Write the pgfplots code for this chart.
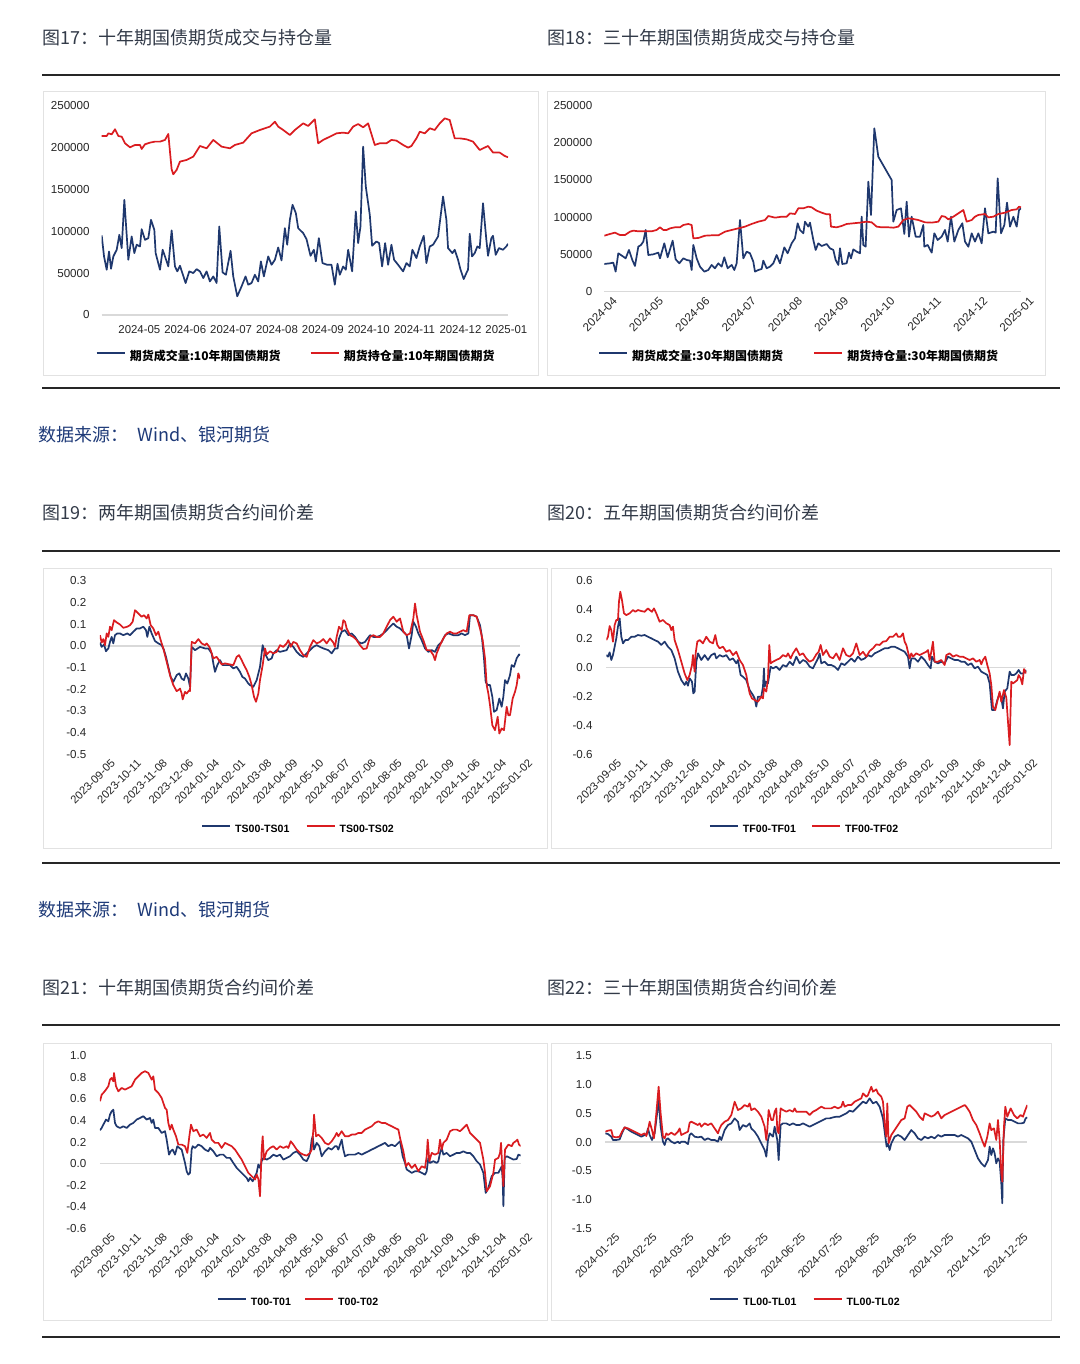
\documentclass[border=0pt]{standalone}
\usepackage{fontspec}
\usepackage{pgfplots}
\pgfplotsset{compat=1.18}
\setmainfont{Liberation Sans}
\newfontfamily\cjk{Noto Sans CJK SC}
\definecolor{navy}{RGB}{31,56,110}
\definecolor{cred}{RGB}{218,28,32}
\definecolor{ttl}{RGB}{50,58,72}
\definecolor{src}{RGB}{30,58,120}
\definecolor{frm}{RGB}{226,226,226}
\definecolor{zero}{RGB}{217,217,217}
\pgfplotsset{
  base/.style={
    scale only axis, anchor=south west,
    axis line style={draw=none}, tick style={draw=none}, major tick length=0pt,
    /pgf/number format/assume math mode=true,
    tick label style={font=\fontsize{5.8}{6.5}\selectfont, text=black!85},
    yticklabel style={anchor=east, inner sep=0pt},
    extra y ticks={0}, extra y tick labels={},
    extra y tick style={grid=major, major grid style={draw=zero, line width=0.75pt}},
    legend style={draw=none, fill=none, legend columns=2, anchor=center, inner sep=0pt,
      nodes={inner sep=0pt}, /tikz/every odd column/.append style={column sep=2pt}},
    legend image code/.code={\draw[#1, line width=1.1pt] (0pt,2pt) -- (14pt,2pt);},
    every axis plot/.append style={line width=0.85pt, line join=round},
  },
  dec/.style={yticklabel style={/pgf/number format/fixed, /pgf/number format/fixed zerofill, /pgf/number format/precision=1}},
  leglat/.style={legend style={font=\bfseries\fontsize{5.3}{6}\selectfont}},
}
\begin{document}
\begin{tikzpicture}
\fill[white] (0pt,0pt) rectangle (540pt,-682pt);
\path[use as bounding box] (0pt,0pt) rectangle (540pt,-682pt);
% titles
\begin{scope}[every node/.style={anchor=west, inner sep=0pt, text=ttl, font=\cjk\fontsize{9}{11}\selectfont}]
\node at (21pt,-19pt) {图17：十年期国债期货成交与持仓量};
\node at (273.5pt,-19pt) {图18：三十年期国债期货成交与持仓量};
\node at (21pt,-256.5pt) {图19：两年期国债期货合约间价差};
\node at (273.5pt,-256.5pt) {图20：五年期国债期货合约间价差};
\node at (21pt,-494pt) {图21：十年期国债期货合约间价差};
\node at (273.5pt,-494pt) {图22：三十年期国债期货合约间价差};
\end{scope}
\begin{scope}[every node/.style={anchor=west, inner sep=0pt, text=src, font=\cjk\fontsize{9}{11}\selectfont}]
\node at (19pt,-217.5pt) {数据来源：};
\node at (68.5pt,-217.5pt) {Wind、银河期货};
\node at (19pt,-455pt) {数据来源：};
\node at (68.5pt,-455pt) {Wind、银河期货};
\end{scope}
% rules
\draw[line width=1pt, black!85] (21pt,-37.5pt) -- (530pt,-37.5pt);
\draw[line width=0.8pt, black!85] (21pt,-194pt) -- (530pt,-194pt);
\draw[line width=1pt, black!85] (21pt,-275.5pt) -- (530pt,-275.5pt);
\draw[line width=0.8pt, black!85] (21pt,-431.5pt) -- (530pt,-431.5pt);
\draw[line width=1pt, black!85] (21pt,-512.5pt) -- (530pt,-512.5pt);
\draw[line width=0.8pt, black!85] (21pt,-668.5pt) -- (530pt,-668.5pt);
% frames
\draw[frm, line width=0.5pt] (21.5pt,-46pt) rectangle (269pt,-187.5pt);
\draw[frm, line width=0.5pt] (273.5pt,-46pt) rectangle (522.5pt,-187.5pt);
\draw[frm, line width=0.5pt] (21.5pt,-284pt) rectangle (273.5pt,-424pt);
\draw[frm, line width=0.5pt] (275.5pt,-284pt) rectangle (525.5pt,-424pt);
\draw[frm, line width=0.5pt] (21.5pt,-521.5pt) rectangle (273.5pt,-660pt);
\draw[frm, line width=0.5pt] (275.5pt,-521.5pt) rectangle (525.5pt,-660pt);

% ---------- Fig 17 ----------
\begin{axis}[base, at={(50.85pt,-157.5pt)}, width=203.15pt, height=104.65pt,
 xmin=185, xmax=1405, ymin=0, ymax=250000,
 xtick={298,435.75,573.5,711.25,849,986.75,1124.5,1262.25,1400},
 xticklabels={2024-05,2024-06,2024-07,2024-08,2024-09,2024-10,2024-11,2024-12,2025-01},
 xticklabel style={anchor=north, inner sep=0pt, yshift=-5pt, font=\fontsize{5.7}{6.5}\selectfont},
 ytick={0,50000,100000,150000,200000,250000}, scaled y ticks=false,
 yticklabel style={/pgf/number format/fixed, /pgf/number format/1000 sep={}, xshift=-5.85pt},
 legend style={at={(axis description cs:0.476,-0.2007)}, font=\cjk\bfseries\fontsize{6}{7}\selectfont},
]
\addplot[navy] coordinates {(185,95000)(192,70000)(200,54100)(207,75900)(213,55200)(220,70000)(230,77900)(238,95800)(245,79900)(253,137500)(265,66000)(275,93800)(283,73900)(290,83900)(300,81900)(305,102500)(315,89800)(325,91800)(333,113700)(343,101700)(347,73900)(360,54100)(368,77900)(375,70000)(385,58000)(395,101000)(405,58000)(412,52100)(420,58800)(437,38200)(448,52100)(460,50100)(470,54800)(480,52100)(490,44100)(500,52100)(510,40100)(520,46100)(530,38200)(538,105700)(548,50900)(558,48100)(572,76700)(580,46100)(592,22300)(605,34200)(617,46100)(625,36200)(635,38200)(645,48100)(655,40100)(663,64000)(672,46100)(685,70000)(695,60000)(705,65900)(715,80700)(725,65200)(735,103700)(742,83900)(750,113700)(758,131600)(768,121600)(775,103700)(790,97800)(800,90600)(812,70700)(822,77900)(828,64000)(837,91800)(848,62000)(862,60000)(875,60000)(885,36200)(893,61200)(900,48100)(910,58000)(918,54100)(925,77900)(937,52100)(948,123600)(955,85900)(962,105700)(970,201100)(978,153400)(990,119600)(997,82700)(1010,87800)(1018,85900)(1027,58000)(1036,85900)(1045,60000)(1055,83900)(1063,65900)(1075,60000)(1090,52100)(1100,62000)(1110,58000)(1118,77900)(1130,68000)(1140,81900)(1152,94600)(1160,62000)(1170,81900)(1180,83900)(1195,93800)(1210,141500)(1220,113700)(1225,79900)(1238,73900)(1245,77900)(1255,66000)(1262,54800)(1272,42900)(1280,50100)(1285,54100)(1290,97000)(1297,70000)(1305,73900)(1313,81900)(1320,79900)(1330,133500)(1340,89800)(1345,70700)(1355,91800)(1360,94600)(1368,71900)(1378,79900)(1390,77900)(1400,81900)(1405,85100)};
\addlegendentry{期货成交量:10年期国债期货\kern14.5pt}
\addplot[cred] coordinates {(185,213800)(200,213800)(205,217000)(215,215800)(225,221800)(235,213800)(245,213000)(255,205100)(270,200300)(285,203100)(300,203100)(305,198300)(315,203900)(330,205900)(345,207100)(360,207100)(375,209100)(385,216200)(395,174000)(400,168100)(410,173300)(420,183200)(440,185200)(460,189200)(480,201900)(500,199100)(520,209100)(545,201100)(570,199100)(585,203100)(610,205900)(635,217000)(660,221000)(690,225000)(705,230900)(715,225000)(730,221000)(750,215000)(765,221000)(790,228900)(805,225800)(825,233700)(835,205100)(850,209100)(870,213000)(890,217000)(910,217800)(925,217000)(940,225000)(955,228100)(970,224200)(985,228900)(1005,203100)(1020,205100)(1040,205100)(1055,209100)(1070,208300)(1090,203100)(1105,199900)(1115,201900)(1130,211000)(1140,219000)(1155,217000)(1170,223000)(1185,221000)(1200,228900)(1215,234900)(1230,232900)(1245,211000)(1260,211000)(1280,209900)(1300,207100)(1320,197100)(1345,201900)(1360,194000)(1380,194000)(1395,190000)(1405,188400)};
\addlegendentry{期货持仓量:10年期国债期货}
\end{axis}

% ---------- Fig 18 ----------
\begin{axis}[base, at={(302.15pt,-145.65pt)}, width=208.35pt, height=92.8pt,
 xmin=178, xmax=1428, ymin=0, ymax=250000,
 xtick={178,316.89,455.78,594.67,733.56,872.44,1011.33,1150.22,1289.11,1428},
 xticklabels={2024-04,2024-05,2024-06,2024-07,2024-08,2024-09,2024-10,2024-11,2024-12,2025-01},
 xticklabel style={rotate=45, anchor=east, inner sep=0pt, xshift=1.2pt, yshift=-6.5pt, font=\fontsize{5.8}{6.5}\selectfont},
 ytick={0,50000,100000,150000,200000,250000}, scaled y ticks=false,
 yticklabel style={/pgf/number format/fixed, /pgf/number format/1000 sep={}, xshift=-5.8pt},
 legend style={at={(axis description cs:0.465,-0.354)}, font=\cjk\bfseries\fontsize{6}{7}\selectfont},
]
\addplot[navy] coordinates {(178,36800)(195,37700)(205,38600)(212,26500)(220,51200)(232,47600)(242,44400)(252,55700)(262,42200)(270,34100)(280,60100)(288,62400)(295,66900)(302,82600)(310,48900)(325,49800)(340,52100)(345,44400)(358,64600)(368,45800)(383,68200)(392,43100)(403,37700)(415,44400)(425,42200)(435,41300)(440,28700)(445,62400)(455,44400)(465,33200)(478,26500)(490,28700)(500,35500)(510,31000)(520,37700)(530,33200)(538,45800)(548,31000)(560,35500)(568,28700)(575,37700)(585,96000)(595,44400)(605,53400)(615,51200)(625,39900)(630,26500)(640,28700)(650,30100)(655,41300)(665,31000)(675,33200)(685,37700)(695,48900)(705,37700)(718,59200)(728,51200)(740,64600)(750,71400)(758,91600)(765,82600)(775,78100)(780,93800)(790,87100)(795,92500)(805,69100)(812,55700)(820,64600)(830,61000)(845,63700)(855,57900)(865,55700)(872,42200)(880,35500)(885,57900)(892,36800)(905,37700)(912,52100)(918,44400)(925,56500)(935,53400)(945,51200)(950,100500)(955,62400)(962,60100)(970,147700)(978,102800)(988,219500)(1000,181300)(1040,149900)(1045,93800)(1055,109500)(1068,111800)(1078,77200)(1085,120700)(1092,73600)(1100,100500)(1112,73600)(1125,73600)(1135,89300)(1138,60100)(1148,62400)(1160,52100)(1168,78100)(1178,69100)(1190,73600)(1200,82600)(1208,66900)(1218,100500)(1228,66900)(1240,82600)(1252,91600)(1260,66900)(1270,60100)(1280,78100)(1290,66900)(1300,78100)(1310,64600)(1320,111800)(1330,78100)(1345,80300)(1352,79000)(1358,152100)(1368,78100)(1378,89300)(1386,119400)(1395,87100)(1405,100500)(1415,87100)(1422,109500)(1428,111800)};
\addlegendentry{期货成交量:30年期国债期货\kern15pt}
\addplot[cred] coordinates {(178,74900)(195,77200)(210,79000)(225,75800)(240,75800)(255,80300)(265,81700)(280,80800)(300,80800)(320,80800)(335,82600)(345,86200)(355,82600)(365,82600)(375,84800)(390,86200)(405,86200)(415,89300)(430,90700)(440,89300)(445,71400)(460,71800)(480,74900)(500,75400)(520,75400)(540,80300)(560,82600)(580,84800)(600,87100)(620,90700)(640,93800)(660,96000)(670,101400)(690,99200)(710,100500)(725,100500)(735,105000)(750,104100)(760,111800)(775,111800)(790,114000)(800,113100)(815,108600)(830,105900)(845,103700)(855,103700)(858,87100)(875,86200)(890,88000)(905,90700)(925,91600)(945,92500)(965,93800)(980,92900)(995,87100)(1010,86200)(1030,86200)(1045,85700)(1060,87100)(1075,96000)(1090,98300)(1105,97400)(1120,96000)(1140,92900)(1160,92500)(1180,93800)(1190,101400)(1200,100500)(1210,96900)(1225,100500)(1240,105000)(1255,109500)(1265,93800)(1280,96000)(1290,100500)(1300,102800)(1320,104100)(1330,99600)(1345,100500)(1360,104100)(1380,105900)(1400,109500)(1415,110400)(1422,114000)(1428,113100)};
\addlegendentry{期货持仓量:30年期国债期货}
\end{axis}

% ---------- Fig 19 ----------
\begin{axis}[base, dec, leglat, at={(50pt,-377.15pt)}, width=210pt, height=86.8pt,
 xmin=180, xmax=1440, ymin=-0.5, ymax=0.3,
 xtick={185,263.25,341.5,419.75,498,576.25,654.5,732.75,811,889.25,967.5,1045.75,1124,1202.25,1280.5,1358.75,1437},
 xticklabels={2023-09-05,2023-10-11,2023-11-08,2023-12-06,2024-01-04,2024-02-01,2024-03-08,2024-04-09,2024-05-10,2024-06-07,2024-07-08,2024-08-05,2024-09-02,2024-10-09,2024-11-06,2024-12-04,2025-01-02},
 xticklabel style={rotate=45, anchor=east, inner sep=0pt, xshift=1.67pt, yshift=-6.5pt, font=\fontsize{5.6}{6.5}\selectfont},
 ytick={-0.5,-0.4,-0.3,-0.2,-0.1,0,0.1,0.2,0.3},
 yticklabel style={xshift=-6.65pt},
 legend style={at={(axis description cs:0.470,-0.436)}},
]
\addplot[navy] coordinates {(180,0.015)(185,-0.005)(192,0.006)(198,-0.025)(205,-0.012)(210,0.018)(215,0.041)(220,0.011)(225,0.049)(232,0.057)(240,0.057)(250,0.049)(262,0.057)(270,0.049)(280,0.065)(290,0.080)(300,0.080)(310,0.088)(318,0.072)(322,0.041)(328,0.088)(335,0.057)(345,0.022)(355,0.011)(365,0.003)(372,-0.020)(378,-0.051)(385,-0.097)(392,-0.143)(400,-0.166)(405,-0.151)(410,-0.135)(418,-0.127)(425,-0.151)(432,-0.158)(438,-0.127)(445,-0.151)(450,-0.189)(455,-0.005)(465,-0.020)(480,-0.005)(495,-0.012)(505,-0.012)(515,-0.035)(520,-0.081)(525,-0.120)(532,-0.089)(540,-0.066)(548,-0.089)(560,-0.089)(570,-0.089)(580,-0.104)(590,-0.097)(600,-0.120)(607,-0.143)(615,-0.151)(625,-0.174)(630,-0.181)(640,-0.189)(650,-0.158)(660,-0.097)(668,0.003)(675,-0.035)(685,-0.066)(695,-0.058)(700,-0.035)(710,-0.020)(720,-0.028)(740,-0.020)(750,0.011)(760,-0.005)(770,-0.028)(780,-0.043)(790,-0.051)(800,-0.035)(810,-0.020)(820,-0.005)(830,0.003)(840,-0.005)(850,-0.012)(865,-0.020)(875,-0.035)(885,-0.012)(893,-0.012)(897,0.034)(905,0.065)(915,0.072)(925,0.049)(935,0.057)(945,0.041)(955,0.018)(965,0.011)(975,0.018)(990,0.049)(1000,0.041)(1010,0.041)(1020,0.046)(1030,0.057)(1040,0.072)(1050,0.088)(1060,0.103)(1070,0.088)(1080,0.080)(1090,0.065)(1100,0.049)(1107,-0.012)(1115,0.049)(1120,0.111)(1128,0.088)(1135,0.057)(1145,0.026)(1155,-0.012)(1165,-0.028)(1175,-0.020)(1185,-0.028)(1195,0.003)(1205,0.018)(1215,0.049)(1225,0.057)(1240,0.049)(1255,0.049)(1265,0.057)(1275,0.049)(1285,0.057)(1290,0.141)(1300,0.141)(1310,0.134)(1320,0.095)(1325,0.049)(1332,-0.058)(1337,-0.166)(1343,-0.181)(1350,-0.181)(1357,-0.235)(1362,-0.304)(1370,-0.296)(1378,-0.243)(1385,-0.281)(1390,-0.235)(1395,-0.158)(1402,-0.174)(1410,-0.135)(1415,-0.089)(1422,-0.097)(1430,-0.058)(1437,-0.040)(1440,-0.043)};
\addlegendentry{TS00-TS01\kern8pt}
\addplot[cred] coordinates {(180,0.049)(185,0.015)(190,0.031)(195,0.003)(200,0.057)(205,0.041)(210,0.088)(215,0.072)(222,0.118)(230,0.108)(240,0.098)(250,0.083)(262,0.088)(270,0.095)(278,0.111)(285,0.164)(295,0.149)(305,0.134)(312,0.141)(320,0.126)(325,0.144)(332,0.095)(340,0.080)(348,0.049)(355,0.065)(362,0.026)(370,-0.012)(380,-0.074)(390,-0.135)(400,-0.181)(410,-0.209)(415,-0.204)(420,-0.197)(425,-0.220)(428,-0.247)(435,-0.212)(440,-0.220)(448,-0.204)(450,-0.209)(455,0.018)(465,0.011)(475,0.031)(485,0.011)(495,0.003)(500,0.011)(508,-0.005)(512,-0.020)(520,-0.058)(530,-0.051)(540,-0.074)(545,-0.086)(555,-0.081)(570,-0.086)(580,-0.089)(590,-0.051)(597,-0.043)(605,-0.066)(612,-0.089)(620,-0.112)(628,-0.143)(635,-0.181)(642,-0.235)(648,-0.258)(655,-0.220)(660,-0.158)(668,-0.089)(675,-0.012)(680,-0.040)(690,-0.025)(700,-0.035)(710,-0.028)(720,0.003)(730,-0.005)(740,0.011)(745,0.026)(752,-0.005)(760,0.018)(770,0.011)(780,-0.020)(790,-0.043)(800,-0.051)(810,-0.005)(820,0.026)(830,0.011)(840,0.018)(850,0.031)(860,0.011)(870,0.034)(880,0.015)(885,-0.005)(890,0.041)(897,0.088)(905,0.072)(910,0.118)(915,0.111)(920,0.080)(930,0.049)(940,0.041)(950,0.026)(960,0.003)(970,-0.015)(980,-0.012)(990,0.041)(1000,0.049)(1010,0.041)(1020,0.041)(1030,0.057)(1040,0.088)(1050,0.118)(1060,0.134)(1070,0.111)(1080,0.126)(1090,0.065)(1100,0.049)(1110,0.057)(1120,0.126)(1125,0.195)(1130,0.141)(1140,0.065)(1150,0.026)(1160,-0.020)(1170,-0.020)(1180,-0.043)(1185,-0.066)(1190,-0.035)(1200,0.003)(1210,0.034)(1220,0.057)(1230,0.065)(1240,0.057)(1250,0.057)(1260,0.065)(1270,0.072)(1280,0.065)(1288,0.141)(1300,0.141)(1310,0.134)(1320,0.080)(1328,0.026)(1335,-0.058)(1340,-0.181)(1345,-0.220)(1350,-0.273)(1357,-0.366)(1365,-0.389)(1373,-0.327)(1378,-0.404)(1385,-0.381)(1392,-0.389)(1400,-0.281)(1405,-0.320)(1410,-0.320)(1418,-0.243)(1425,-0.212)(1430,-0.181)(1435,-0.127)(1440,-0.151)};
\addlegendentry{TS00-TS02}
\end{axis}

% ---------- Fig 20 ----------
\begin{axis}[base, dec, leglat, at={(303.15pt,-377pt)}, width=210pt, height=86.65pt,
 xmin=175, xmax=1435, ymin=-0.6, ymax=0.6,
 xtick={180,258,336,414,492,570,648,726,804,882,960,1038,1116,1194,1272,1350,1428},
 xticklabels={2023-09-05,2023-10-11,2023-11-08,2023-12-06,2024-01-04,2024-02-01,2024-03-08,2024-04-09,2024-05-10,2024-06-07,2024-07-08,2024-08-05,2024-09-02,2024-10-09,2024-11-06,2024-12-04,2025-01-02},
 xticklabel style={rotate=45, anchor=east, inner sep=0pt, xshift=1.67pt, yshift=-6.5pt, font=\fontsize{5.6}{6.5}\selectfont},
 ytick={-0.6,-0.4,-0.2,0,0.2,0.4,0.6},
 yticklabel style={xshift=-6.65pt},
 legend style={at={(axis description cs:0.4695,-0.4386)}},
]
\addplot[navy] coordinates {(175,0.085)(180,0.074)(185,0.104)(190,0.051)(195,0.085)(200,0.143)(205,0.201)(210,0.282)(215,0.339)(220,0.212)(225,0.166)(232,0.189)(240,0.189)(250,0.212)(260,0.212)(270,0.224)(280,0.219)(290,0.224)(300,0.212)(310,0.201)(320,0.189)(330,0.178)(340,0.155)(350,0.178)(360,0.143)(370,0.120)(380,0.062)(390,-0.030)(400,-0.088)(410,-0.122)(415,-0.099)(420,-0.127)(425,-0.076)(432,-0.099)(436,-0.180)(440,-0.168)(445,0.039)(450,0.097)(460,0.051)(470,0.085)(480,0.051)(490,0.085)(500,0.097)(505,0.062)(515,0.085)(525,0.074)(535,0.085)(545,0.051)(555,0.062)(565,0.028)(570,0.051)(578,-0.053)(585,-0.065)(595,-0.088)(605,-0.157)(615,-0.192)(620,-0.215)(625,-0.272)(630,-0.203)(640,-0.203)(645,-0.134)(648,-0.007)(650,-0.134)(655,-0.099)(660,-0.111)(668,0.005)(675,-0.007)(685,0.005)(695,-0.018)(705,0.016)(715,0.005)(725,0.039)(735,0.016)(745,0.074)(755,0.028)(765,0.051)(775,0.039)(785,0.005)(795,-0.007)(805,0.039)(810,0.062)(815,0.097)(820,0.028)(830,0.039)(840,0.016)(850,0.016)(860,0.005)(870,-0.018)(880,0.028)(890,0.016)(900,0.039)(910,0.062)(920,0.039)(930,0.074)(940,0.051)(950,0.062)(960,0.085)(970,0.074)(980,0.097)(990,0.108)(1000,0.120)(1010,0.132)(1020,0.132)(1030,0.143)(1040,0.143)(1050,0.132)(1060,0.120)(1070,0.108)(1080,0.074)(1085,-0.007)(1090,0.062)(1100,0.062)(1110,0.039)(1120,0.074)(1130,0.051)(1140,0.016)(1148,-0.007)(1152,0.074)(1160,0.039)(1170,0.028)(1180,0.039)(1190,0.028)(1200,0.074)(1210,0.062)(1220,0.051)(1230,0.051)(1240,0.039)(1250,0.039)(1260,0.016)(1270,0.028)(1280,-0.007)(1290,0.005)(1300,-0.030)(1310,-0.042)(1318,-0.053)(1325,-0.111)(1332,-0.295)(1340,-0.295)(1348,-0.226)(1355,-0.180)(1360,-0.215)(1365,-0.284)(1370,-0.168)(1378,-0.145)(1385,-0.030)(1390,-0.053)(1398,-0.053)(1405,-0.042)(1412,-0.018)(1418,-0.042)(1425,-0.042)(1432,-0.030)(1435,-0.018)};
\addlegendentry{TF00-TF01\kern7.5pt}
\addplot[cred] coordinates {(175,0.189)(180,0.212)(185,0.286)(190,0.258)(195,0.178)(200,0.293)(205,0.328)(210,0.328)(213,0.455)(217,0.524)(222,0.466)(228,0.374)(235,0.362)(245,0.374)(255,0.397)(262,0.385)(270,0.397)(280,0.390)(290,0.385)(300,0.408)(305,0.397)(312,0.385)(318,0.408)(325,0.374)(335,0.316)(345,0.328)(355,0.305)(365,0.293)(370,0.258)(375,0.282)(380,0.189)(390,0.120)(400,0.039)(410,-0.042)(418,-0.088)(425,-0.053)(432,0.016)(435,0.085)(440,-0.030)(443,0.097)(448,0.178)(455,0.189)(465,0.166)(475,0.212)(485,0.178)(495,0.166)(502,0.224)(508,0.155)(515,0.132)(525,0.143)(535,0.108)(545,0.120)(555,0.085)(565,0.108)(575,0.051)(585,0.016)(595,-0.053)(600,-0.122)(605,-0.180)(612,-0.215)(620,-0.226)(630,-0.238)(640,-0.203)(645,-0.215)(648,-0.145)(655,-0.168)(660,-0.076)(664,0.155)(668,0.028)(675,0.039)(685,0.051)(695,0.062)(705,0.085)(715,0.074)(720,0.097)(728,0.062)(735,0.097)(745,0.132)(755,0.085)(765,0.097)(775,0.062)(785,0.039)(795,0.051)(805,0.090)(812,0.108)(818,0.155)(825,0.085)(835,0.120)(845,0.074)(855,0.062)(865,0.097)(875,0.051)(885,0.132)(895,0.085)(905,0.074)(915,0.097)(925,0.166)(935,0.085)(945,0.108)(955,0.074)(965,0.113)(975,0.132)(985,0.159)(995,0.155)(1005,0.178)(1015,0.182)(1025,0.212)(1035,0.212)(1045,0.235)(1050,0.212)(1058,0.212)(1065,0.235)(1070,0.178)(1075,0.155)(1085,0.062)(1090,0.097)(1095,0.074)(1105,0.097)(1115,0.085)(1125,0.097)(1135,0.108)(1140,0.120)(1145,0.051)(1150,0.108)(1155,0.178)(1160,0.039)(1170,0.039)(1180,0.051)(1190,0.016)(1195,0.085)(1205,0.097)(1215,0.074)(1225,0.085)(1235,0.074)(1245,0.074)(1255,0.062)(1265,0.051)(1275,0.062)(1285,0.039)(1295,0.051)(1300,0.021)(1305,0.051)(1312,0.074)(1318,0.016)(1325,-0.042)(1330,-0.122)(1335,-0.272)(1342,-0.295)(1350,-0.215)(1355,-0.168)(1360,-0.238)(1368,-0.157)(1375,-0.210)(1380,-0.376)(1385,-0.538)(1390,-0.099)(1395,-0.111)(1402,-0.099)(1408,-0.088)(1412,-0.053)(1418,-0.076)(1423,-0.118)(1428,-0.012)(1432,-0.030)(1435,-0.042)};
\addlegendentry{TF00-TF02}
\end{axis}

% ---------- Fig 21 ----------
\begin{axis}[base, dec, leglat, at={(50pt,-614.15pt)}, width=210.35pt, height=86.3pt,
 xmin=180, xmax=1442, ymin=-0.6, ymax=1.0,
 xtick={185,263.25,341.5,419.75,498,576.25,654.5,732.75,811,889.25,967.5,1045.75,1124,1202.25,1280.5,1358.75,1437},
 xticklabels={2023-09-05,2023-10-11,2023-11-08,2023-12-06,2024-01-04,2024-02-01,2024-03-08,2024-04-09,2024-05-10,2024-06-07,2024-07-08,2024-08-05,2024-09-02,2024-10-09,2024-11-06,2024-12-04,2025-01-02},
 xticklabel style={rotate=45, anchor=east, inner sep=0pt, xshift=1.67pt, yshift=-6.5pt, font=\fontsize{5.6}{6.5}\selectfont},
 ytick={-0.6,-0.4,-0.2,0,0.2,0.4,0.6,0.8,1.0},
 yticklabel style={xshift=-6.65pt},
 legend style={at={(axis description cs:0.4695,-0.433)}},
]
\addplot[navy] coordinates {(180,0.309)(185,0.330)(190,0.361)(198,0.408)(205,0.392)(210,0.454)(215,0.485)(220,0.500)(225,0.377)(230,0.346)(240,0.330)(250,0.346)(260,0.330)(270,0.361)(280,0.377)(290,0.408)(300,0.423)(310,0.439)(320,0.408)(330,0.423)(335,0.377)(340,0.408)(345,0.330)(355,0.330)(365,0.284)(375,0.300)(380,0.222)(387,0.083)(392,0.114)(398,0.130)(405,0.083)(412,0.161)(418,0.145)(425,0.130)(430,0.068)(435,0.006)(440,-0.071)(445,-0.102)(450,-0.086)(455,0.130)(458,0.161)(465,0.145)(475,0.176)(485,0.161)(495,0.130)(505,0.114)(510,0.145)(520,0.114)(530,0.068)(540,0.083)(550,0.083)(560,0.053)(570,0.053)(580,0.006)(590,-0.040)(600,-0.071)(610,-0.102)(620,-0.133)(625,-0.164)(630,-0.133)(638,-0.164)(645,-0.117)(650,-0.086)(655,-0.009)(660,-0.040)(665,0.022)(670,0.053)(680,0.037)(690,0.053)(700,0.083)(710,0.068)(720,0.083)(730,0.037)(740,0.053)(750,0.068)(760,0.099)(770,0.114)(780,0.083)(790,0.037)(800,0.022)(805,0.053)(810,0.099)(815,0.222)(818,0.253)(822,0.130)(830,0.192)(838,0.161)(845,0.068)(855,0.114)(865,0.145)(875,0.130)(885,0.161)(890,0.161)(895,0.130)(905,0.222)(910,0.130)(915,0.068)(925,0.083)(935,0.083)(945,0.083)(955,0.099)(965,0.083)(975,0.099)(985,0.114)(995,0.130)(1005,0.145)(1015,0.161)(1025,0.176)(1035,0.192)(1045,0.161)(1055,0.176)(1065,0.161)(1075,0.192)(1080,0.207)(1088,0.068)(1095,0.006)(1100,-0.055)(1108,-0.071)(1115,-0.086)(1125,-0.071)(1135,-0.071)(1145,-0.086)(1155,-0.102)(1160,-0.071)(1165,0.053)(1170,0.006)(1180,0.022)(1190,0.006)(1195,0.022)(1200,0.099)(1205,0.145)(1210,0.083)(1220,0.099)(1230,0.068)(1240,0.083)(1250,0.099)(1260,0.099)(1270,0.114)(1280,0.099)(1290,0.099)(1300,0.068)(1310,0.022)(1320,-0.009)(1330,-0.086)(1337,-0.272)(1345,-0.225)(1355,-0.117)(1365,-0.086)(1375,-0.086)(1385,-0.025)(1388,-0.148)(1390,-0.395)(1394,0.053)(1400,0.068)(1410,0.053)(1420,0.037)(1430,0.043)(1435,0.083)(1442,0.074)};
\addlegendentry{T00-T01\kern6.5pt}
\addplot[cred] coordinates {(180,0.578)(185,0.639)(190,0.655)(198,0.686)(205,0.717)(210,0.778)(215,0.794)(220,0.763)(222,0.840)(228,0.717)(235,0.670)(245,0.701)(255,0.686)(265,0.701)(275,0.717)(285,0.778)(295,0.809)(305,0.840)(315,0.856)(325,0.840)(335,0.778)(340,0.809)(345,0.686)(355,0.655)(365,0.608)(375,0.516)(380,0.500)(385,0.377)(390,0.315)(395,0.361)(400,0.315)(408,0.253)(415,0.176)(425,0.176)(435,0.161)(442,0.099)(448,0.253)(453,0.361)(460,0.300)(470,0.315)(480,0.253)(490,0.269)(500,0.238)(510,0.284)(515,0.222)(525,0.192)(535,0.192)(545,0.145)(555,0.192)(565,0.176)(575,0.161)(585,0.130)(595,0.083)(605,0.037)(615,-0.025)(625,-0.086)(635,-0.117)(645,-0.148)(650,-0.102)(655,-0.142)(660,-0.303)(665,0.130)(668,0.253)(672,0.037)(680,0.114)(690,0.145)(700,0.161)(710,0.130)(720,0.161)(730,0.145)(740,0.161)(745,0.145)(752,0.207)(760,0.176)(770,0.130)(780,0.099)(790,0.083)(800,0.074)(810,0.099)(815,0.130)(820,0.315)(822,0.454)(828,0.253)(835,0.269)(845,0.238)(855,0.192)(865,0.176)(875,0.207)(885,0.253)(890,0.284)(895,0.253)(905,0.300)(915,0.253)(925,0.253)(935,0.269)(945,0.269)(955,0.284)(965,0.284)(975,0.315)(985,0.330)(995,0.346)(1005,0.377)(1015,0.392)(1025,0.377)(1035,0.377)(1045,0.361)(1055,0.346)(1065,0.330)(1075,0.315)(1080,0.238)(1090,0.114)(1098,-0.025)(1105,0.006)(1115,-0.040)(1125,-0.009)(1135,-0.071)(1145,-0.025)(1155,-0.040)(1160,0.068)(1163,0.222)(1168,0.022)(1175,0.099)(1185,0.083)(1195,0.099)(1200,0.222)(1205,0.130)(1210,0.192)(1220,0.222)(1230,0.300)(1240,0.315)(1250,0.315)(1260,0.300)(1270,0.330)(1280,0.361)(1290,0.284)(1300,0.253)(1310,0.222)(1320,0.192)(1330,0.037)(1335,-0.086)(1340,-0.256)(1350,-0.210)(1360,-0.086)(1365,0.037)(1375,0.053)(1380,0.099)(1383,0.192)(1387,-0.055)(1390,-0.210)(1395,0.130)(1405,0.176)(1415,0.161)(1420,0.192)(1427,0.207)(1432,0.222)(1437,0.176)(1442,0.161)};
\addlegendentry{T00-T02}
\end{axis}

% ---------- Fig 22 ----------
\begin{axis}[base, dec, leglat, at={(302.65pt,-614.15pt)}, width=211pt, height=86.3pt,
 xmin=172, xmax=1438, ymin=-1.5, ymax=1.5,
 xtick={175,286.36,397.73,509.09,620.45,731.82,843.18,954.55,1065.91,1177.27,1288.64,1400},
 xticklabels={2024-01-25,2024-02-25,2024-03-25,2024-04-25,2024-05-25,2024-06-25,2024-07-25,2024-08-25,2024-09-25,2024-10-25,2024-11-25,2024-12-25},
 xticklabel style={rotate=45, anchor=east, inner sep=0pt, xshift=1.67pt, yshift=-6.5pt, font=\fontsize{5.6}{6.5}\selectfont},
 ytick={-1.5,-1.0,-0.5,0,0.5,1.0,1.5},
 yticklabel style={xshift=-6.5pt},
 legend style={at={(axis description cs:0.472,-0.433)}},
]
\addplot[navy] coordinates {(172,0.151)(180,0.139)(190,0.093)(195,0.035)(205,0.035)(215,0.046)(222,0.151)(230,0.255)(240,0.220)(250,0.180)(260,0.151)(270,0.122)(280,0.093)(290,0.122)(295,0.122)(300,0.237)(305,0.122)(312,0.035)(320,0.151)(325,0.382)(332,0.730)(338,0.266)(345,0.006)(350,-0.052)(355,0.046)(360,0.064)(370,0.006)(380,-0.023)(390,0.006)(395,-0.023)(400,0.006)(410,0.006)(420,-0.035)(425,0.122)(430,0.151)(440,0.093)(450,0.081)(460,0.093)(470,0.035)(480,0.064)(490,0.035)(500,0.035)(510,0.006)(515,0.093)(520,0.035)(530,0.208)(540,0.295)(550,0.324)(560,0.411)(570,0.353)(575,0.208)(585,0.295)(595,0.266)(605,0.324)(610,0.237)(620,0.180)(630,0.093)(640,-0.023)(650,-0.139)(655,-0.255)(660,0.035)(665,0.151)(670,0.122)(675,0.093)(680,0.266)(685,0.122)(688,0.035)(692,-0.313)(698,0.295)(705,0.324)(715,0.324)(725,0.295)(735,0.324)(745,0.295)(755,0.295)(765,0.324)(775,0.295)(785,0.266)(795,0.295)(805,0.324)(815,0.353)(825,0.382)(835,0.411)(845,0.411)(855,0.428)(865,0.440)(875,0.440)(885,0.469)(895,0.498)(905,0.544)(915,0.527)(925,0.585)(935,0.643)(945,0.701)(955,0.672)(965,0.759)(975,0.672)(985,0.701)(995,0.614)(1005,0.411)(1012,0.093)(1016,-0.081)(1020,-0.023)(1025,-0.139)(1030,-0.023)(1040,0.093)(1050,0.122)(1060,0.093)(1070,0.035)(1080,0.122)(1090,0.208)(1100,0.151)(1110,0.064)(1120,0.035)(1130,0.093)(1140,0.064)(1150,0.093)(1160,0.064)(1170,0.122)(1180,0.093)(1190,0.122)(1200,0.122)(1210,0.122)(1220,0.122)(1230,0.093)(1240,0.122)(1250,0.093)(1260,0.064)(1270,0.006)(1280,-0.139)(1290,-0.284)(1300,-0.371)(1310,-0.428)(1320,-0.313)(1325,-0.081)(1330,-0.226)(1335,-0.110)(1340,-0.197)(1345,-0.371)(1350,-0.284)(1355,-0.342)(1360,-0.718)(1363,-1.065)(1366,0.035)(1372,0.411)(1380,0.382)(1390,0.382)(1400,0.353)(1410,0.324)(1420,0.324)(1428,0.336)(1433,0.411)(1438,0.428)};
\addlegendentry{TL00-TL01\kern8pt}
\addplot[cred] coordinates {(172,0.180)(180,0.197)(190,0.208)(195,0.093)(205,0.081)(215,0.093)(222,0.180)(230,0.255)(240,0.237)(250,0.208)(260,0.180)(270,0.151)(280,0.122)(290,0.151)(295,0.104)(300,0.208)(305,0.353)(312,0.208)(318,0.064)(325,0.498)(332,0.961)(338,0.498)(345,0.093)(350,0.064)(355,0.151)(360,0.122)(370,0.162)(380,0.122)(390,0.180)(395,0.237)(400,0.122)(410,0.151)(420,0.180)(425,0.336)(430,0.353)(440,0.324)(450,0.295)(455,0.324)(460,0.266)(470,0.324)(480,0.295)(490,0.324)(500,0.237)(510,0.151)(515,0.237)(520,0.295)(530,0.353)(540,0.382)(550,0.469)(560,0.701)(570,0.556)(580,0.585)(590,0.643)(600,0.614)(605,0.672)(610,0.556)(620,0.585)(630,0.527)(640,0.440)(650,0.266)(655,0.035)(658,0.208)(662,0.556)(670,0.382)(675,0.382)(680,0.527)(685,0.585)(688,0.208)(692,0.151)(698,0.585)(705,0.556)(715,0.527)(725,0.556)(735,0.527)(740,0.585)(745,0.527)(755,0.527)(765,0.527)(775,0.527)(785,0.469)(795,0.527)(805,0.556)(812,0.585)(820,0.614)(830,0.585)(840,0.585)(850,0.585)(860,0.614)(870,0.585)(880,0.614)(885,0.701)(890,0.614)(900,0.643)(910,0.643)(920,0.701)(930,0.730)(940,0.759)(945,0.845)(955,0.787)(960,0.816)(970,0.961)(975,0.874)(985,0.915)(990,0.845)(1000,0.787)(1005,0.701)(1010,0.324)(1015,0.093)(1018,0.672)(1022,-0.023)(1030,0.122)(1040,0.208)(1050,0.295)(1060,0.382)(1070,0.411)(1078,0.614)(1085,0.643)(1095,0.585)(1105,0.527)(1115,0.440)(1125,0.382)(1130,0.498)(1140,0.469)(1150,0.440)(1160,0.469)(1170,0.527)(1180,0.411)(1190,0.469)(1200,0.498)(1210,0.527)(1220,0.556)(1230,0.585)(1240,0.614)(1250,0.643)(1255,0.614)(1265,0.527)(1275,0.382)(1285,0.295)(1295,0.151)(1302,0.035)(1310,-0.081)(1318,0.093)(1325,0.324)(1330,0.208)(1338,0.237)(1345,0.035)(1350,0.382)(1355,0.035)(1360,-0.544)(1363,-0.689)(1368,0.266)(1372,0.614)(1378,0.440)(1388,0.585)(1398,0.469)(1408,0.411)(1418,0.469)(1425,0.440)(1432,0.556)(1438,0.643)};
\addlegendentry{TL00-TL02}
\end{axis}
\end{tikzpicture}
\end{document}
